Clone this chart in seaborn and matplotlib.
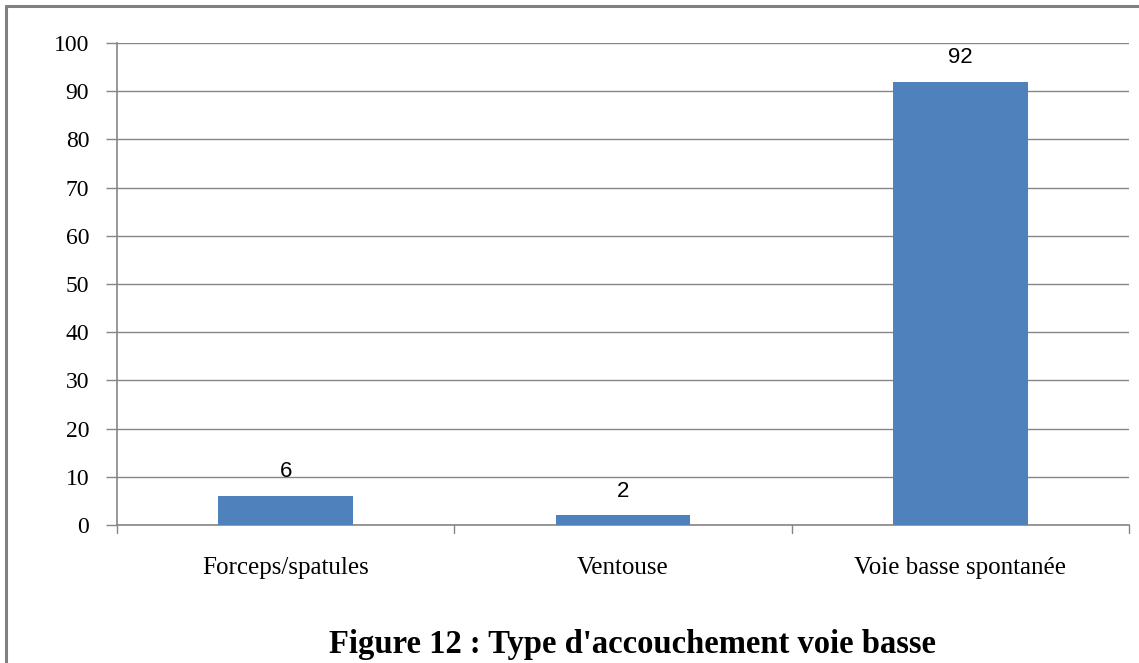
import pandas as pd
import seaborn as sns
import matplotlib.pyplot as plt
from matplotlib.lines import Line2D

categories = ["Forceps/spatules", "Ventouse", "Voie basse spontanée"]
values = [6, 2, 92]
yticks = [0, 10, 20, 30, 40, 50, 60, 70, 80, 90, 100]
title = "Figure 12 : Type d'accouchement voie basse"

df = pd.DataFrame({"Type": categories, "Pourcentage": values})

sns.set_style("white")
grey = "#868686"

fig = plt.figure(figsize=(11.39, 6.63), dpi=100)
ax = fig.add_axes([0.1027, 0.2081, 0.8885, 0.727])

sns.barplot(x="Type", y="Pourcentage", data=df, color="#4F81BD",
            width=0.4, saturation=1, linewidth=0, ax=ax, zorder=3)

ax.set_ylim(0, 100)
ax.set_xlim(-0.5, 2.5)
ax.set_yticks(yticks)
ax.yaxis.grid(True, color=grey, linewidth=1)
ax.set_axisbelow(True)
ax.set_xlabel("")
ax.set_ylabel("")

for side in ["top", "right"]:
    ax.spines[side].set_visible(False)
for side in ["left", "bottom"]:
    ax.spines[side].set_color(grey)
    ax.spines[side].set_linewidth(1.2)

ax.tick_params(axis="y", length=8, color=grey, width=1, pad=12,
               labelsize=17, left=True, labelcolor="black")
ax.tick_params(axis="x", length=0, pad=23, labelsize=18, labelcolor="black")
for lab in ax.get_yticklabels() + ax.get_xticklabels():
    lab.set_fontfamily("Liberation Serif")

# tick marks between categories
for xb in [-0.5, 0.5, 1.5, 2.5]:
    ax.plot([xb, xb], [0, -1.6], color=grey, lw=1, clip_on=False)

for i, v in enumerate(values):
    ax.annotate(str(v), (i, v), xytext=(0, 10), textcoords="offset points",
                ha="center", va="bottom", fontsize=16,
                fontfamily="Liberation Sans", color="black")

fig.text(0.555, 0.028, title, ha="center", va="center", fontsize=23.5,
         fontweight="bold", fontfamily="Liberation Serif", color="black")

# page frame
fig.add_artist(Line2D([0.0053, 0.0053], [0, 0.991], transform=fig.transFigure,
                      color="#808080", lw=2.2))
fig.add_artist(Line2D([0.0053, 1.0], [0.991, 0.991], transform=fig.transFigure,
                      color="#808080", lw=2.2))

fig.savefig("out.png", dpi=100, facecolor="white")
